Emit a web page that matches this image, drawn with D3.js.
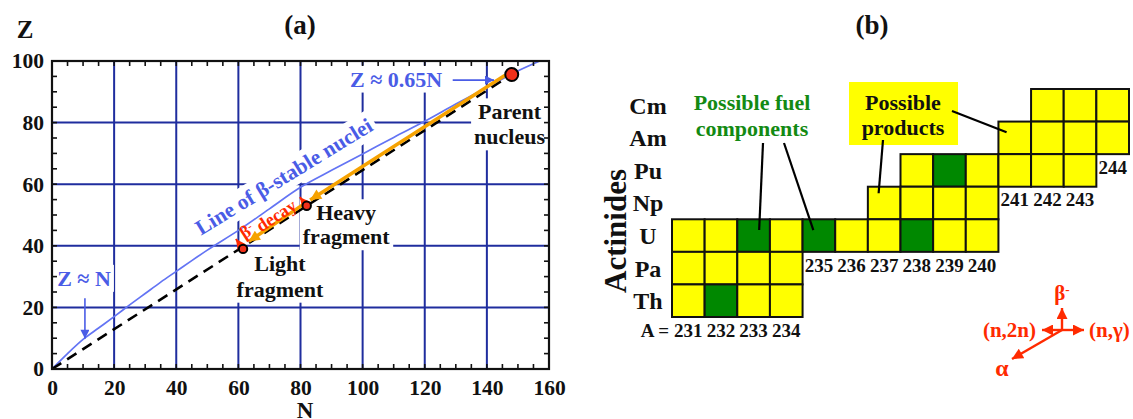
<!DOCTYPE html>
<html>
<head>
<meta charset="utf-8">
<script src="https://cdn.jsdelivr.net/npm/d3@7"></script>
<style>
  html, body { margin: 0; padding: 0; background: #fff; }
  svg { display: block; font-family: "Liberation Serif", "Times New Roman", serif; font-weight: bold; }
</style>
</head>
<body>
<svg id="chart" width="1133" height="419"></svg>
<script>
// ---------- Panel (a): N-Z plane ----------
const nTicks = [0, 20, 40, 60, 80, 100, 120, 140, 160];
const zTicks = [0, 20, 40, 60, 80, 100];

// line of beta-stable nuclei
const stableN = [0, 5, 10, 15, 20, 25, 30, 35, 40, 45, 50, 60, 70, 80, 90, 100, 110, 120, 130, 140, 148, 157, 160];
const stableZ = [0, 5, 9.6, 13.3, 17, 20.8, 24.5, 28.2, 31.7, 35.2, 38.6, 45, 52, 59, 64.5, 69.8, 75.2, 80.4, 86, 91.4, 95.8, 100, 101.3];

// straight line through the parent nucleus (Z/N fixed during fission)
const fissionLineN = [0, 148];
const fissionLineZ = [0, 95.6];

const parentNucleus = [148, 95.6];
const heavyFragment = [82, 53];
const lightFragment = [61.5, 39];
// tips of the beta-decay arrows from heavy and light fragment
const betaTipsN = [79.8, 59.2];
const betaTipsZ = [55.8, 42.2];

// ---------- Panel (b): actinide chain ----------
const elements = ["Cm", "Am", "Pu", "Np", "U", "Pa", "Th"];
const massNumbers = [231, 232, 233, 234, 235, 236, 237, 238, 239, 240, 241, 242, 243, 244];
const rowFirstA = [242, 241, 238, 237, 231, 231, 231];
const rowLastA  = [244, 244, 243, 240, 240, 234, 234];
const fuelElements = ["Th", "U", "U", "U", "Pu"];
const fuelMasses   = [232, 233, 235, 238, 239];
const reactionLabels = ["β", "(n,γ)", "(n,2n)", "α"];

const svg = d3.select("#chart");
svg.append("rect").attr("width", 1133).attr("height", 419).attr("fill", "#fff");

const defs = svg.append("defs");
function marker(id, color, w, h) {
  defs.append("marker").attr("id", id)
    .attr("viewBox", "0 0 10 10").attr("refX", 10).attr("refY", 5)
    .attr("markerUnits", "userSpaceOnUse")
    .attr("markerWidth", w).attr("markerHeight", h)
    .attr("orient", "auto")
    .append("path").attr("d", "M0,0 L10,5 L0,10 Z").attr("fill", color);
}
const ORANGE = "#f6a200", RED = "#ff2a00", BLUE_TXT = "#4a5ce6", BLUE_LINE = "#6374f4", GRID = "#1f2d9e";
marker("arrOrange", ORANGE, 13, 11);
marker("arrRed", RED, 11, 10);
marker("arrBlue", BLUE_TXT, 11, 9);
marker("arrLegend", RED, 12, 11);

const x = d3.scaleLinear().domain([0, 160]).range([52, 549]);
const y = d3.scaleLinear().domain([0, 100]).range([369, 61]);

defs.append("clipPath").attr("id", "plotClip").append("rect")
  .attr("x", x(0)).attr("y", y(100)).attr("width", x(160) - x(0)).attr("height", y(0) - y(100));

const gA = svg.append("g");
const gridLayer = gA.append("g");
const boxLayer = gA.append("g");
const markLayer = gA.append("g");
const frameLayer = gA.append("g");
const textLayer = gA.append("g");

// grid lines
gridLayer.selectAll("line.gx").data(nTicks.slice(1, -1)).join("line")
  .attr("x1", d => x(d)).attr("x2", d => x(d)).attr("y1", y(0)).attr("y2", y(100))
  .attr("stroke", GRID).attr("stroke-width", 2);
gridLayer.selectAll("line.gy").data(zTicks.slice(1, -1)).join("line")
  .attr("y1", d => y(d)).attr("y2", d => y(d)).attr("x1", x(0)).attr("x2", x(160))
  .attr("stroke", GRID).attr("stroke-width", 2);

// minor inside ticks every 5 units on all sides
const minorN = d3.range(0, 161, 5), minorZ = d3.range(0, 101, 5);
const tl = 5;
const tickG = frameLayer.append("g").attr("stroke", "#111").attr("stroke-width", 1.6);
minorN.forEach(n => {
  tickG.append("line").attr("x1", x(n)).attr("x2", x(n)).attr("y1", y(0)).attr("y2", y(0) - tl);
  tickG.append("line").attr("x1", x(n)).attr("x2", x(n)).attr("y1", y(100)).attr("y2", y(100) + tl);
});
minorZ.forEach(z => {
  tickG.append("line").attr("y1", y(z)).attr("y2", y(z)).attr("x1", x(0)).attr("x2", x(0) + tl);
  tickG.append("line").attr("y1", y(z)).attr("y2", y(z)).attr("x1", x(160)).attr("x2", x(160) - tl);
});
frameLayer.append("rect")
  .attr("x", x(0)).attr("y", y(100)).attr("width", x(160) - x(0)).attr("height", y(0) - y(100))
  .attr("fill", "none").attr("stroke", "#111").attr("stroke-width", 2.2);

// axes (labels only)
const xAxis = frameLayer.append("g").attr("transform", `translate(0,${y(0)})`)
  .call(d3.axisBottom(x).tickValues(nTicks).tickSize(0).tickPadding(11));
const yAxis = frameLayer.append("g").attr("transform", `translate(${x(0)},0)`)
  .call(d3.axisLeft(y).tickValues(zTicks).tickSize(0).tickPadding(8));
[xAxis, yAxis].forEach(a => {
  a.select(".domain").remove();
  a.selectAll("text").attr("fill", "#111")
    .style("font-family", '"Liberation Serif","Times New Roman",serif')
    .style("font-weight", "bold").style("font-size", "21.5px");
});

// curves
const stablePts = stableN.map((n, i) => [n, stableZ[i]]);
markLayer.append("path").datum(stablePts)
  .attr("clip-path", "url(#plotClip)")
  .attr("d", d3.line().x(d => x(d[0])).y(d => y(d[1])).curve(d3.curveMonotoneX))
  .attr("fill", "none").attr("stroke", BLUE_LINE).attr("stroke-width", 1.7);

const fissionPts = fissionLineN.map((n, i) => [n, fissionLineZ[i]]);
markLayer.append("path").datum(fissionPts)
  .attr("d", d3.line().x(d => x(d[0])).y(d => y(d[1])))
  .attr("fill", "none").attr("stroke", "#000").attr("stroke-width", 2.6)
  .attr("stroke-dasharray", "11,7");

// orange arrows: parent -> heavy fragment -> light fragment
function px(p) { return [x(p[0]), y(p[1])]; }
function offsetSeg(a, b, startCut, endCut, off) {
  const dx = b[0] - a[0], dy = b[1] - a[1], L = Math.hypot(dx, dy);
  const ux = dx / L, uy = dy / L;
  const nx = uy, ny = -ux;
  const sgn = (ny < 0) ? 1 : -1;
  return [[a[0] + ux * startCut + sgn * nx * off, a[1] + uy * startCut + sgn * ny * off],
          [b[0] - ux * endCut + sgn * nx * off, b[1] - uy * endCut + sgn * ny * off]];
}
const P = px(parentNucleus), H = px(heavyFragment), Lf = px(lightFragment);
[offsetSeg(P, H, 6, 6, 3), offsetSeg(H, Lf, 2, 9, 3)].forEach(s => {
  markLayer.append("line")
    .attr("x1", s[0][0]).attr("y1", s[0][1]).attr("x2", s[1][0]).attr("y2", s[1][1])
    .attr("stroke", ORANGE).attr("stroke-width", 3.5).attr("marker-end", "url(#arrOrange)");
});

// beta-decay arrows
[heavyFragment, lightFragment].forEach((f, i) => {
  markLayer.append("line")
    .attr("x1", x(f[0])).attr("y1", y(f[1]))
    .attr("x2", x(betaTipsN[i])).attr("y2", y(betaTipsZ[i]))
    .attr("stroke", RED).attr("stroke-width", 2).attr("marker-end", "url(#arrRed)");
});

// nuclei
markLayer.append("circle").attr("cx", P[0]).attr("cy", P[1]).attr("r", 6.5)
  .attr("fill", "#f0301a").attr("stroke", "#000").attr("stroke-width", 2);
[H, Lf].forEach(p => markLayer.append("circle").attr("cx", p[0]).attr("cy", p[1]).attr("r", 4.2)
  .attr("fill", "#f0301a").attr("stroke", "#000").attr("stroke-width", 2));

// annotation arrows (blue)
markLayer.append("line").attr("x1", x(129)).attr("y1", y(93.8)).attr("x2", x(142.3)).attr("y2", y(93.8))
  .attr("stroke", BLUE_TXT).attr("stroke-width", 1.6).attr("marker-end", "url(#arrBlue)");
markLayer.append("line").attr("x1", x(10.6)).attr("y1", y(23)).attr("x2", x(10.6)).attr("y2", y(9.8))
  .attr("stroke", BLUE_TXT).attr("stroke-width", 1.6).attr("marker-end", "url(#arrBlue)");

// labels with white background
function addLabel(o) {
  const tr = `translate(${x(o.at[0])},${y(o.at[1])}) rotate(${o.rotate || 0})`;
  const g = textLayer.append("g").attr("transform", tr);
  const t = g.append("text").attr("text-anchor", "middle").attr("fill", o.color)
    .style("font-size", o.size + "px");
  o.lines.forEach((s, i) => {
    t.append("tspan").attr("x", 0).attr("y", (i - (o.lines.length - 1) / 2) * (o.lh || 0))
      .attr("dy", "0.35em").text(s);
  });
  if (o.box) {
    const b = t.node().getBBox(), p = o.pad == null ? 3 : o.pad;
    boxLayer.append("rect").attr("transform", tr)
      .attr("x", b.x - p).attr("y", b.y - p + 2).attr("width", b.width + 2 * p).attr("height", b.height + 2 * p - 4)
      .attr("fill", "#fff");
  }
  return t;
}
addLabel({ lines: ["Z ≈ 0.65N"], at: [110.8, 94.2], size: 22, color: BLUE_TXT, box: true });
addLabel({ lines: ["Z ≈ N"], at: [10.3, 29.5], size: 22, color: BLUE_TXT, box: true });
addLabel({ lines: ["Line of β-stable nuclei"], at: [74.6, 62.6], rotate: -31.5, size: 21.5, color: BLUE_TXT, box: true, pad: 4 });
addLabel({ lines: ["Parent", "nucleus"], at: [147.3, 79.5], lh: 25, size: 22, color: "#111", box: true });
addLabel({ lines: ["Heavy", "fragment"], at: [94.7, 46.9], lh: 24, size: 22, color: "#111", box: true });
addLabel({ lines: ["Light", "fragment"], at: [73.4, 30.2], lh: 26, size: 22, color: "#111", box: true });

// red beta-decay label
{
  const g = textLayer.append("g").attr("transform", `translate(${x(69.2)},${y(49.2)}) rotate(-33)`);
  const t = g.append("text").attr("text-anchor", "middle").attr("fill", RED).style("font-size", "18px").attr("dy", "0.35em");
  t.append("tspan").text("β");
  t.append("tspan").attr("dy", "-0.45em").style("font-size", "11px").text("-");
  t.append("tspan").attr("dy", "0.45em").text(" decay");
}

// titles and axis names
svg.append("text").attr("x", 300).attr("y", 34).attr("text-anchor", "middle").style("font-size", "27px").attr("fill", "#111").text("(a)");
svg.append("text").attr("x", 25).attr("y", 38).attr("text-anchor", "middle").style("font-size", "25px").attr("fill", "#111").text("Z");
svg.append("text").attr("x", 305).attr("y", 418).attr("text-anchor", "middle").style("font-size", "23px").attr("fill", "#111").text("N");
svg.append("text").attr("x", 872).attr("y", 34).attr("text-anchor", "middle").style("font-size", "27px").attr("fill", "#111").text("(b)");

// ---------- Panel (b) ----------
const gB = svg.append("g");
const xb = d3.scaleBand().domain(massNumbers).range([672, 1129]);
const yb = d3.scaleBand().domain(elements).range([89, 317]);
const bw = xb.bandwidth(), bh = yb.bandwidth();
const isFuel = (el, A) => fuelElements.some((e, i) => e === el && fuelMasses[i] === A);

const cells = [];
elements.forEach((el, i) => {
  massNumbers.filter(A => A >= rowFirstA[i] && A <= rowLastA[i])
    .forEach(A => cells.push({ el, A, fuel: isFuel(el, A) }));
});

const YELLOW = "#ffff00", GREEN = "#008800";
gB.append("rect").attr("x", 849).attr("y", 82).attr("width", 109).attr("height", 63).attr("fill", YELLOW);

gB.selectAll("rect.cell").data(cells).join("rect").attr("class", "cell")
  .attr("x", d => xb(d.A)).attr("y", d => yb(d.el)).attr("width", bw).attr("height", bh)
  .attr("fill", d => d.fuel ? GREEN : YELLOW).attr("stroke", "#111").attr("stroke-width", 2);

// row labels
gB.selectAll("text.row").data(elements).join("text").attr("class", "row")
  .attr("x", 648).attr("y", d => yb(d) + bh / 2).attr("dy", "0.35em")
  .attr("text-anchor", "middle").style("font-size", "24px").attr("fill", "#111").text(d => d);

// mass labels under the lowest cell of each column
massNumbers.forEach(A => {
  let lowest = null;
  elements.forEach((el, i) => { if (A >= rowFirstA[i] && A <= rowLastA[i]) lowest = el; });
  gB.append("text").attr("x", xb(A) + bw / 2).attr("y", yb(lowest) + bh + 13).attr("dy", "0.35em")
    .attr("text-anchor", "middle").style("font-size", "19px").attr("fill", "#111").text(A);
  if (A === massNumbers[0]) {
    gB.append("text").attr("x", xb(A) - 3).attr("y", yb(lowest) + bh + 13).attr("dy", "0.35em")
      .attr("text-anchor", "end").style("font-size", "19px").attr("fill", "#111").text("A =");
  }
});

gB.append("text").attr("transform", "translate(615,231) rotate(-90)").attr("text-anchor", "middle")
  .attr("dy", "0.35em").style("font-size", "31px").attr("fill", "#111").text("Actinides");

// fuel annotation
const fuelTxt = gB.append("text").attr("text-anchor", "middle").attr("fill", "#138a13").style("font-size", "22px");
fuelTxt.append("tspan").attr("x", 752).attr("y", 102).attr("dy", "0.35em").text("Possible fuel");
fuelTxt.append("tspan").attr("x", 752).attr("y", 128).attr("dy", "0.35em").text("components");
const fuelLeaders = [
  { from: [763, 143], el: "U", A: 233, fx: 0.67, fy: 0.33 },
  { from: [784, 143], el: "U", A: 235, fx: 0.33, fy: 0.33 }
];
const prodLeaders = [
  { from: [883, 140], el: "Np", A: 237, fx: 0.33, fy: 0.2 },
  { from: [952, 111], el: "Am", A: 241, fx: 0.25, fy: 0.33 }
];
fuelLeaders.concat(prodLeaders).forEach(l => {
  gB.append("line").attr("x1", l.from[0]).attr("y1", l.from[1])
    .attr("x2", xb(l.A) + l.fx * bw).attr("y2", yb(l.el) + l.fy * bh)
    .attr("stroke", "#000").attr("stroke-width", 2.2);
});
const prodTxt = gB.append("text").attr("text-anchor", "middle").attr("fill", "#111").style("font-size", "22px");
prodTxt.append("tspan").attr("x", 903).attr("y", 102).attr("dy", "0.35em").text("Possible");
prodTxt.append("tspan").attr("x", 903).attr("y", 127).attr("dy", "0.35em").text("products");

// reaction legend
const lg = gB.append("g").attr("transform", "translate(1062,330)");
const legendArrows = [[0, -22], [22, 0], [-20, 0], [-50, 29]];
legendArrows.forEach(v => {
  lg.append("line").attr("x1", 0).attr("y1", 0).attr("x2", v[0]).attr("y2", v[1])
    .attr("stroke", RED).attr("stroke-width", 2.4).attr("marker-end", "url(#arrLegend)");
});
const lt = (tx, ty, anchor, fs) => lg.append("text").attr("x", tx).attr("y", ty).attr("dy", "0.35em")
  .attr("text-anchor", anchor).attr("fill", RED).style("font-size", (fs || 21) + "px");
const bLab = lt(0, -37, "middle");
bLab.append("tspan").text(reactionLabels[0]);
bLab.append("tspan").attr("dy", "-0.5em").style("font-size", "13px").text("-");
lt(27, 0, "start").text(reactionLabels[1]);
lt(-26, 0, "end").text(reactionLabels[2]);
lt(-60, 38, "middle", 24).text(reactionLabels[3]);
</script>
</body>
</html>
